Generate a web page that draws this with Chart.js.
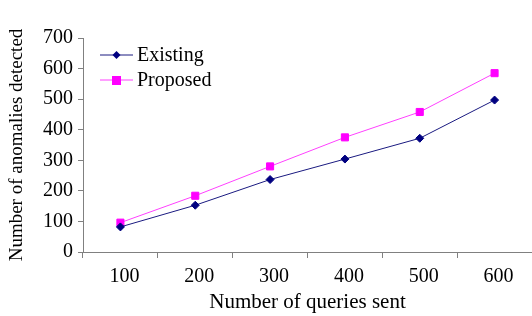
<!DOCTYPE html>
<html><head><meta charset="utf-8">
<script src="https://cdn.jsdelivr.net/npm/chart.js@4/dist/chart.umd.min.js"></script>
<style>html,body{margin:0;padding:0;background:#fff;overflow:hidden}#w{width:532px;height:316px;overflow:hidden}</style>
</head><body><div id="w"><canvas id="c" width="538" height="316"></canvas></div>
<script>
const categories = ['100','200','300','400','500','600'];
const existing = [82, 153, 237, 304, 372, 497];
const proposed = [96, 184, 280, 375, 458, 585];
const yTicks = [0,100,200,300,400,500,600,700];
const FONT = 'Liberation Serif, Times New Roman, serif';

const legendPlugin = {
  id: 'inLegend',
  afterDatasetsDraw(chart) {
    const ctx = chart.ctx;
    const ys = [55, 80];
    chart.data.datasets.forEach((ds, i) => {
      const y = ys[i];
      ctx.save();
      ctx.strokeStyle = ds.borderColor; ctx.lineWidth = 1;
      ctx.beginPath(); ctx.moveTo(100, y); ctx.lineTo(133, y); ctx.stroke();
      ctx.fillStyle = ds.pointBackgroundColor;
      if (ds.pointStyle === 'rect') { ctx.fillRect(112, y-4, 9, 9); }
      else { ctx.beginPath(); ctx.moveTo(116.5,y-4); ctx.lineTo(120.5,y); ctx.lineTo(116.5,y+4); ctx.lineTo(112.5,y); ctx.closePath(); ctx.fill(); }
      ctx.fillStyle = '#000'; ctx.font = '20px ' + FONT; ctx.textBaseline = 'middle';
      ctx.fillText(ds.label, 137, y+1);
      ctx.restore();
    });
  }
};

new Chart(document.getElementById('c'), {
  type: 'line',
  data: {
    labels: categories,
    datasets: [
      {label:'Existing', data: existing, borderColor:'#1a1a80', backgroundColor:'#000080', pointBackgroundColor:'#000080', pointBorderColor:'#000080', pointStyle:'rectRot', pointRadius:4, borderWidth:1, tension:0},
      {label:'Proposed', data: proposed, borderColor:'#ff40ff', backgroundColor:'#ff00ff', pointBackgroundColor:'#ff00ff', pointBorderColor:'#ff00ff', pointStyle:'rect', pointRadius:5, borderWidth:1, tension:0}
    ]
  },
  options: {
    responsive:false, animation:false,
    layout:{padding:{top:38, right:0, left:0, bottom:0}},
    plugins:{legend:{display:false}, tooltip:{enabled:false}},
    scales:{
      x:{
        offset:true,
        afterFit(ax){ ax.height = 64; },
        grid:{display:true, drawOnChartArea:false, offset:true, tickLength:6, color:'#808080'},
        border:{color:'#808080', width:1},
        ticks:{color:'#000', font:{family:FONT, size:20}, padding:7, labelOffset:4, maxRotation:0},
        title:{display:true, text:'Number of queries sent', color:'#000', font:{family:FONT, size:21}, padding:{top:0,bottom:1}}
      },
      y:{
        min:0, max:700,
        afterFit(ax){ ax.width = 83; },
        afterBuildTicks(ax){ ax.ticks = yTicks.map(v=>({value:v})); },
        grid:{display:true, drawOnChartArea:false, tickLength:5, color:'#808080'},
        border:{color:'#808080', width:1},
        ticks:{color:'#000', font:{family:FONT, size:20}, padding:5},
        title:{display:true, text:'Number of anomalies detected', color:'#000', font:{family:FONT, size:19}, padding:{top:6,bottom:0}}
      }
    }
  },
  plugins:[legendPlugin]
});
</script></body></html>
